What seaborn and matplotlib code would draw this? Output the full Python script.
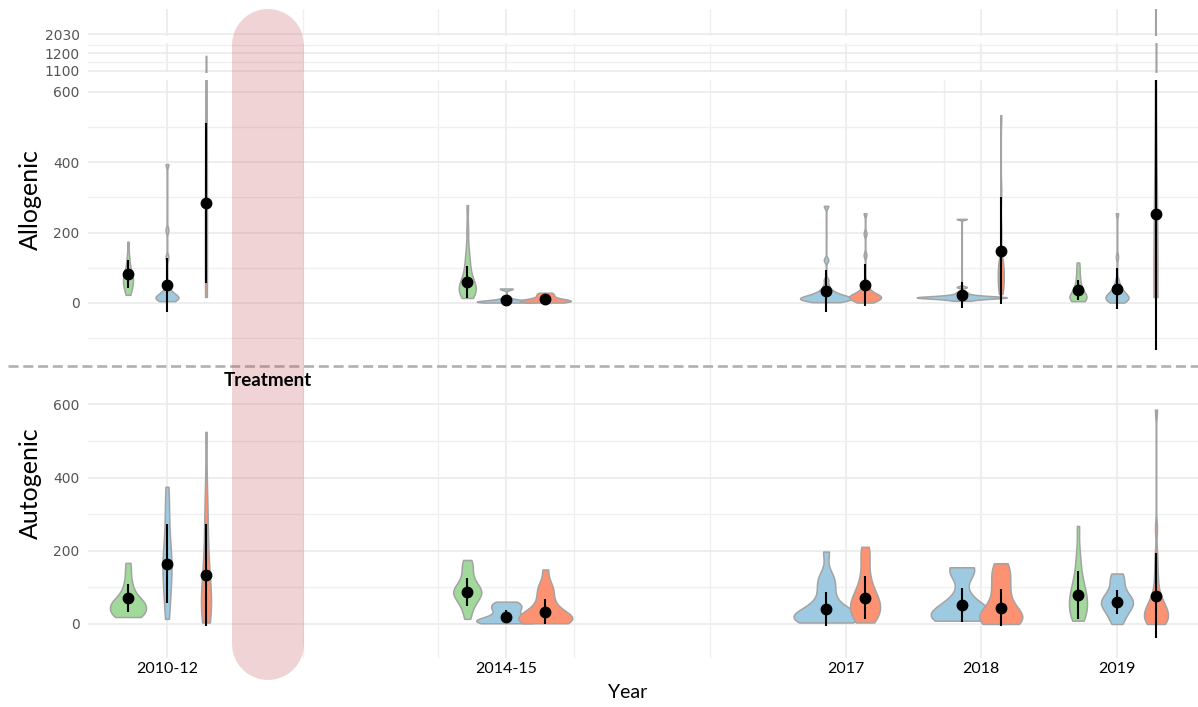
import numpy as np
import pandas as pd
import matplotlib
matplotlib.use("Agg")
import matplotlib.pyplot as plt
from matplotlib.lines import Line2D
import seaborn as sns

sns.set_style("white")
plt.rcParams["font.family"] = ["Lato", "DejaVu Sans"]

# ------------------------------------------------------------------ data
periods = ["2010-12", "2014-15", "2017", "2018", "2019"]
period_pos = [2012.0, 2014.5, 2017.0, 2018.0, 2019.0]
groups = ["Group A", "Group B", "Group C"]

# Allogenic observations
allo_2010_a = [23, 30, 38, 45, 52, 58, 62, 66, 70, 75, 82, 90, 100, 115, 135, 174]
allo_2010_b = [5, 8, 10, 12, 14, 15, 17, 19, 22, 26, 32, 40, 130, 207, 395]
allo_2010_c = [17, 45, 60, 120, 210, 330, 450, 600, 780, 950, 1185]
allo_2014_a = [14, 20, 25, 30, 33, 36, 38, 40, 43, 47, 52, 58, 66, 75, 88, 100, 118, 131, 160, 210, 278]
allo_2014_b = [1, 1.5, 2, 2.5, 3, 3.5, 4, 5, 6, 7, 9, 12, 18, 39, 41]
allo_2014_c = [1, 2, 3, 4, 5, 6, 7, 8, 9, 11, 14, 18, 22, 26, 29]
allo_2017_b = [2, 4, 6, 8, 9, 10, 11, 12, 13, 14, 15, 16, 18, 20, 22, 25, 28, 32, 38, 48, 65, 122, 276]
allo_2017_c = [1, 3, 5, 7, 9, 11, 13, 15, 16, 17, 18, 19, 20, 22, 24, 27, 30, 34, 40, 48, 60, 136, 197, 255]
allo_2018_b = [6, 9, 11, 12, 13, 14, 14.5, 15, 15.5, 16, 16.5, 17, 18, 19, 20, 22, 25, 30, 45, 239]
allo_2018_c = [25, 35, 45, 55, 65, 75, 85, 95, 105, 115, 122, 200, 320, 534]
allo_2019_a = [5, 8, 10, 12, 14, 16, 18, 21, 25, 30, 38, 48, 60, 75, 95, 115]
allo_2019_b = [1, 3, 5, 7, 9, 11, 13, 15, 17, 19, 21, 23, 26, 29, 33, 38, 44, 52, 65, 131, 255]
allo_2019_c = [15, 25, 35, 45, 55, 65, 80, 95, 110, 122, 480, 900, 1300, 1700, 2100]

# Autogenic observations
auto_2010_a = [19, 20, 22, 24, 28, 35, 40, 45, 48, 52, 55, 58, 62, 68, 75, 85, 98, 115, 140, 167]
auto_2010_b = [14, 40, 70, 95, 120, 140, 155, 165, 175, 195, 220, 260, 300, 340, 375]
auto_2010_c = [4, 15, 28, 40, 50, 60, 75, 95, 120, 150, 190, 240, 300, 357, 525]
auto_2014_a = [14, 35, 50, 60, 68, 75, 80, 85, 88, 92, 96, 102, 110, 120, 135, 150, 165, 175]
auto_2014_b = [2, 3, 4, 5, 6, 7, 8, 9, 10, 12, 15, 19, 25, 32, 38, 42, 46, 50, 55, 58, 61]
auto_2014_c = [2, 4, 6, 8, 10, 12, 14, 16, 19, 23, 28, 35, 45, 57, 70, 85, 100, 108, 149]
auto_2017_b = [4, 7, 10, 12, 14, 16, 18, 20, 23, 27, 32, 40, 52, 66, 85, 105, 120, 135, 198]
auto_2017_c = [4, 10, 16, 22, 28, 34, 40, 46, 52, 58, 64, 70, 76, 84, 95, 110, 129, 150, 180, 200, 211]
auto_2018_b = [9, 12, 14, 16, 18, 19, 21, 23, 26, 30, 35, 42, 52, 65, 80, 140, 145, 150, 153, 155]
auto_2018_c = [0, 3, 6, 9, 12, 15, 18, 21, 25, 30, 40, 55, 70, 85, 100, 115, 130, 145, 158, 166]
auto_2019_a = [9, 15, 22, 30, 38, 46, 54, 62, 70, 78, 86, 95, 105, 120, 140, 165, 200, 268]
auto_2019_b = [0, 10, 22, 32, 40, 46, 52, 56, 60, 64, 68, 74, 82, 92, 105, 120, 132, 138]
auto_2019_c = [0, 2, 4, 7, 10, 13, 16, 20, 24, 28, 32, 37, 42, 47, 52, 58, 65, 75, 95,
               120, 150, 190, 262, 586]

# Group means and standard deviations per period (nan = group not sampled)
nan = np.nan
allo_mean_a = [82, 60, nan, nan, 37]
allo_sd_a = [39, 45, nan, nan, 28]
allo_mean_b = [51, 9, 35, 23, 40]
allo_sd_b = [78, 5, 60, 37, 58]
allo_mean_c = [284, 11, 51, 149, 253]
allo_sd_c = [228, 6, 61, 152, 386]

auto_mean_a = [70, 88, nan, nan, 79]
auto_sd_a = [38, 38, nan, nan, 65]
auto_mean_b = [165, 20, 41, 52, 59]
auto_sd_b = [107, 18, 47, 46, 33]
auto_mean_c = [134, 34, 72, 45, 77]
auto_sd_c = [140, 35, 58, 51, 116]

allo_obs = {
    ("2010-12", "Group A"): allo_2010_a, ("2010-12", "Group B"): allo_2010_b,
    ("2010-12", "Group C"): allo_2010_c,
    ("2014-15", "Group A"): allo_2014_a, ("2014-15", "Group B"): allo_2014_b,
    ("2014-15", "Group C"): allo_2014_c,
    ("2017", "Group B"): allo_2017_b, ("2017", "Group C"): allo_2017_c,
    ("2018", "Group B"): allo_2018_b, ("2018", "Group C"): allo_2018_c,
    ("2019", "Group A"): allo_2019_a, ("2019", "Group B"): allo_2019_b,
    ("2019", "Group C"): allo_2019_c,
}
auto_obs = {
    ("2010-12", "Group A"): auto_2010_a, ("2010-12", "Group B"): auto_2010_b,
    ("2010-12", "Group C"): auto_2010_c,
    ("2014-15", "Group A"): auto_2014_a, ("2014-15", "Group B"): auto_2014_b,
    ("2014-15", "Group C"): auto_2014_c,
    ("2017", "Group B"): auto_2017_b, ("2017", "Group C"): auto_2017_c,
    ("2018", "Group B"): auto_2018_b, ("2018", "Group C"): auto_2018_c,
    ("2019", "Group A"): auto_2019_a, ("2019", "Group B"): auto_2019_b,
    ("2019", "Group C"): auto_2019_c,
}
allo_summary = {"Group A": (allo_mean_a, allo_sd_a), "Group B": (allo_mean_b, allo_sd_b),
                "Group C": (allo_mean_c, allo_sd_c)}
auto_summary = {"Group A": (auto_mean_a, auto_sd_a), "Group B": (auto_mean_b, auto_sd_b),
                "Group C": (auto_mean_c, auto_sd_c)}

# ------------------------------------------------------------------ style
palette = {"Group A": "#a1d99b", "Group B": "#9ecae1", "Group C": "#fc9272"}
EDGE = "#a3a3a3"
GRID = "#ebebeb"

# maximum violin width in pixels, per period
allo_width_px = {"Group A": [10, 17, 0, 0, 17], "Group B": [23, 59, 52, 90, 23],
                 "Group C": [2, 51, 32, 6, 4]}
auto_width_px = {"Group A": [36, 28, 0, 0, 18], "Group B": [9, 60, 65, 62, 32],
                 "Group C": [10, 54, 30, 43, 24]}

W, H = 1198, 707
X_MIN, X_MAX = 2011.418, 2019.597
AX_LEFT = 88
PX_PER_YEAR = (W - AX_LEFT) / (X_MAX - X_MIN)
DODGE = 0.2874


def positions(obs):
    pos = {}
    for p, x0 in zip(periods, period_pos):
        present = [g for g in groups if (p, g) in obs]
        m = len(present)
        for k, g in enumerate(present):
            pos[(p, g)] = x0 + (k - (m - 1) / 2) * DODGE
    return pos


def nrd0_factor(vals):
    v = np.asarray(vals, float)
    sd = v.std(ddof=1)
    q25, q75 = np.percentile(v, [25, 75])
    lo = min(sd, (q75 - q25) / 1.34)
    if lo <= 0:
        lo = sd
    return 0.9 * lo * len(v) ** -0.2 / sd


def draw_panel(ax, obs, widths, summary):
    pos = positions(obs)
    for (p, g), vals in obs.items():
        vals = np.asarray(vals, float)
        w = widths[g][periods.index(p)] / PX_PER_YEAR
        sns.violinplot(x=np.full(len(vals), pos[(p, g)]), y=vals, orient="x",
                       native_scale=True, width=w, density_norm="width", cut=0,
                       gridsize=800, inner=None, color=palette[g], saturation=1,
                       linecolor=EDGE, linewidth=1.1, bw_method=nrd0_factor(vals),
                       ax=ax)
    for g in groups:
        m = np.asarray(summary[g][0], float)
        s = np.asarray(summary[g][1], float)
        keep = ~np.isnan(m)
        xs = [pos[(p, g)] for p, k in zip(periods, keep) if k]
        ax.errorbar(xs, m[keep], yerr=s[keep], fmt="o", color="black", ms=7.5,
                    elinewidth=1.5, capsize=0, zorder=5)


def style_axis(ax, ylim, major, minor, show_x, minor_x=(2013, 2014, 2015, 2016)):
    ax.set_xlim(X_MIN, X_MAX)
    ax.set_ylim(*ylim)
    ax.set_xticks(period_pos)
    ax.set_xticks(list(minor_x), minor=True)
    ax.set_yticks(major, labels=[str(t) for t in major], fontfamily="DejaVu Sans",
                  fontsize=10, color="#555555")
    ax.set_yticks(minor, minor=True)
    ax.grid(True, which="major", color=GRID, lw=1.2)
    ax.grid(True, which="minor", color="#efefef", lw=0.9)
    ax.set_axisbelow(True)
    ax.tick_params(which="both", length=0)
    ax.tick_params(axis="y", pad=6)
    ax.tick_params(axis="x", pad=3)
    for s in ax.spines.values():
        s.set_visible(False)
    ax.set_xlabel("")
    ax.set_ylabel("")
    if show_x:
        ax.set_xticklabels(periods, fontsize=11.5, color="black")
    else:
        ax.set_xticklabels([])


def add_axes_px(fig, top, bottom):
    return fig.add_axes([AX_LEFT / W, 1 - bottom / H, 1 - AX_LEFT / W, (bottom - top) / H])


fig = plt.figure(figsize=(W / 100, H / 100), dpi=100)

# Allogenic panel: broken value axis in three pieces
ax_a = add_axes_px(fig, 9.3, 35.5)
ax_b = add_axes_px(fig, 43.3, 71.7)
ax_c = add_axes_px(fig, 80.0, 369.0)
# Autogenic panel
ax_d = add_axes_px(fig, 369.0, 658.0)

for ax in (ax_a, ax_b, ax_c):
    draw_panel(ax, allo_obs, allo_width_px, allo_summary)
draw_panel(ax_d, auto_obs, auto_width_px, auto_summary)

style_axis(ax_a, (2028, 2075), [2030], [], False)
style_axis(ax_b, (1094, 1257), [1100, 1200], [1150, 1250], False)
style_axis(ax_c, (-188, 634), [0, 200, 400, 600], [-100, 100, 300, 500], False,
           minor_x=(2013, 2014, 2015, 2016, 2017.727))
style_axis(ax_d, (-93, 697), [0, 200, 400, 600], [100, 300, 500], True)

# panel separator
fig.add_artist(Line2D([8 / W, 1], [1 - 366 / H] * 2, transform=fig.transFigure,
                      color="#b0b0b0", lw=1.9, dashes=(3.8, 1.8), zorder=2))
# treatment period band
band_x = 268 / W
fig.add_artist(Line2D([band_x, band_x], [1 - (9.3 + 36) / H, 1 - (680 - 36) / H],
                      transform=fig.transFigure, color="#c3535b", alpha=0.25,
                      lw=72 * 0.72, solid_capstyle="round", zorder=3))
fig.text(band_x, 1 - 381 / H, "Treatment", ha="center", va="center", fontsize=13.5,
         fontweight="bold", color="black", zorder=4)

fig.text(30 / W, 1 - 200 / H, "Allogenic", rotation=90, ha="center", va="center",
         fontsize=18, color="black")
fig.text(30 / W, 1 - 483 / H, "Autogenic", rotation=90, ha="center", va="center",
         fontsize=18, color="black")
fig.text(628 / W, 1 - 693 / H, "Year", ha="center", va="center", fontsize=14,
         color="black")

fig.savefig("out.png", dpi=100)
